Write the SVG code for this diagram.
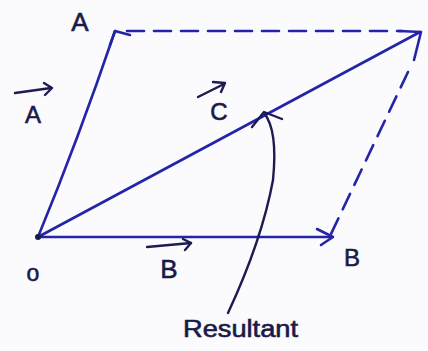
<svg xmlns="http://www.w3.org/2000/svg" width="428" height="351" viewBox="0 0 428 351">
<style>
.ln{fill:none;stroke:#2424a8;stroke-width:2.6;stroke-linecap:round;stroke-linejoin:round}
.dash{stroke-dasharray:17 10}
.lbl{font-family:"Liberation Sans",Arial,sans-serif;fill:#1a1a48;stroke:#1a1a48;stroke-width:0.6}
.rs{fill:none;stroke:#1c1c50;stroke-width:2.4;stroke-linecap:round;stroke-linejoin:round}
</style>
<rect width="428" height="351" fill="#fbfafc"/>
<g id="connectors">
<path class="ln" d="M38,237 Q78,140 115,31"/>
<polyline class="ln" points="110,45 115,31 130,35"/>
<path class="ln" d="M38,237 L332,237"/>
<polyline class="ln" points="317,229 333,237 321,245"/>
<path class="ln" d="M38,237 L420,32"/>
<polyline class="ln" points="399,31 421,32 414,60"/>
<path class="ln dash" d="M127,31 L402,31"/>
<path class="ln dash" d="M408,72 L331,234"/>
<path class="rs" d="M228,313 Q262,240 273,180 Q278,130 264,113"/>
<polyline class="rs" points="252,127 264,112 282,119"/>
</g>
<g id="O"><circle cx="38" cy="237" r="3" fill="#1a1a48"/><text class="lbl" x="33" y="281" font-size="23" text-anchor="middle">o</text></g>
<g id="A"><text class="lbl" x="80" y="31" font-size="26" text-anchor="middle">A</text></g>
<g id="vecA"><text class="lbl" x="33" y="123" font-size="24" text-anchor="middle">A</text><polyline class="rs" points="15,93 51,88"/><polyline class="rs" points="44,83 52,88 45,95"/></g>
<g id="vecC"><text class="lbl" x="219" y="120" font-size="24" text-anchor="middle">C</text><polyline class="rs" points="198,97 224,84"/><polyline class="rs" points="213,82 225,83 221,92"/></g>
<g id="vecB"><text class="lbl" x="169" y="278" font-size="26" text-anchor="middle">B</text><polyline class="rs" points="147,247 191,243"/><polyline class="rs" points="183,239 191,243 185,250"/></g>
<g id="B"><text class="lbl" x="352" y="266" font-size="24" text-anchor="middle">B</text></g>
<g id="resultant"><text class="lbl" x="183" y="337" font-size="23" textLength="115" lengthAdjust="spacingAndGlyphs">Resultant</text></g>
</svg>
